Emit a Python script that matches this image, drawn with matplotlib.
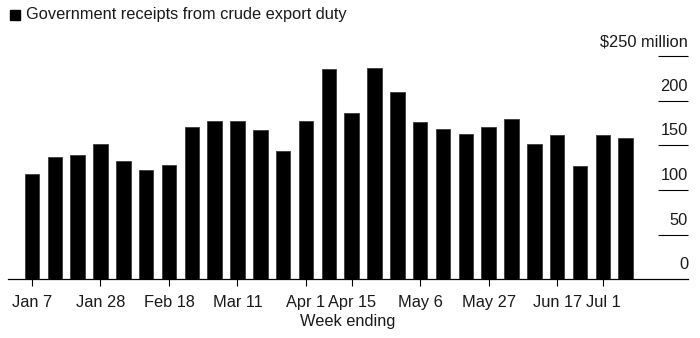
import matplotlib.pyplot as plt
import matplotlib.patches as mpatches
import numpy as np

plt.rcParams['font.family'] = ['Liberation Sans', 'DejaVu Sans']

weeks = ['Jan 7', 'Jan 14', 'Jan 21', 'Jan 28', 'Feb 4', 'Feb 11', 'Feb 18', 'Feb 25',
         'Mar 4', 'Mar 11', 'Mar 18', 'Mar 25', 'Apr 1', 'Apr 8', 'Apr 15', 'Apr 22',
         'Apr 29', 'May 6', 'May 13', 'May 20', 'May 27', 'Jun 3', 'Jun 10', 'Jun 17',
         'Jun 24', 'Jul 1', 'Jul 8']
receipts = [118, 137, 139.5, 152, 132, 122, 128, 171, 177, 177, 167, 143.5, 177, 236,
            186, 237, 210, 176, 168, 163, 171, 179, 152, 161, 127, 162, 158.5]
shown_ticks = ['Jan 7', 'Jan 28', 'Feb 18', 'Mar 11', 'Apr 1', 'Apr 15', 'May 6',
               'May 27', 'Jun 17', 'Jul 1']
y_ticks = [0, 50, 100, 150, 200, 250]
y_labels = ['0', '50', '100', '150', '200', '$250 million']

fs = 11.8
txt = '#1a1a1a'

fig = plt.figure(figsize=(7, 3.38), dpi=100)
ax = fig.add_axes([8/700, (338-279.3)/338, 680/700, (279.3-56)/338])

x = np.arange(len(weeks))
ax.bar(x, receipts, width=0.64, color='black', edgecolor='#3a3a3a', linewidth=0.6, zorder=3)

ax.set_ylim(0, 250)
ax.set_xlim(-1.05, 28.73)

# right-side grid stubs with labels above
for v in y_ticks[1:]:
    ax.hlines(v, 27.42, 28.73, color='black', linewidth=0.8, clip_on=False)
for v, lab in zip(y_ticks, y_labels):
    ax.annotate(lab, (28.73, v), xytext=(0, 5), textcoords='offset points',
                ha='right', va='bottom', fontsize=fs, color=txt)

for s in ['top', 'right', 'left']:
    ax.spines[s].set_visible(False)
ax.spines['bottom'].set_linewidth(0.9)
ax.set_yticks([])

ax.set_xticks([weeks.index(w) for w in shown_ticks])
ax.set_xticklabels(shown_ticks, fontsize=fs, color=txt)
ax.tick_params(axis='x', length=5, width=0.8, pad=6)
ax.set_xlabel('Week ending', fontsize=fs, color=txt, labelpad=3)

fig.patches.append(mpatches.Rectangle((10/700, 1 - 20/338), 10/700, 10/338,
                                      transform=fig.transFigure, color='black'))
fig.text(26/700, 1 - 15/338, 'Government receipts from crude export duty',
         fontsize=fs, va='center', ha='left', color=txt)

fig.savefig('out.png', dpi=100)
